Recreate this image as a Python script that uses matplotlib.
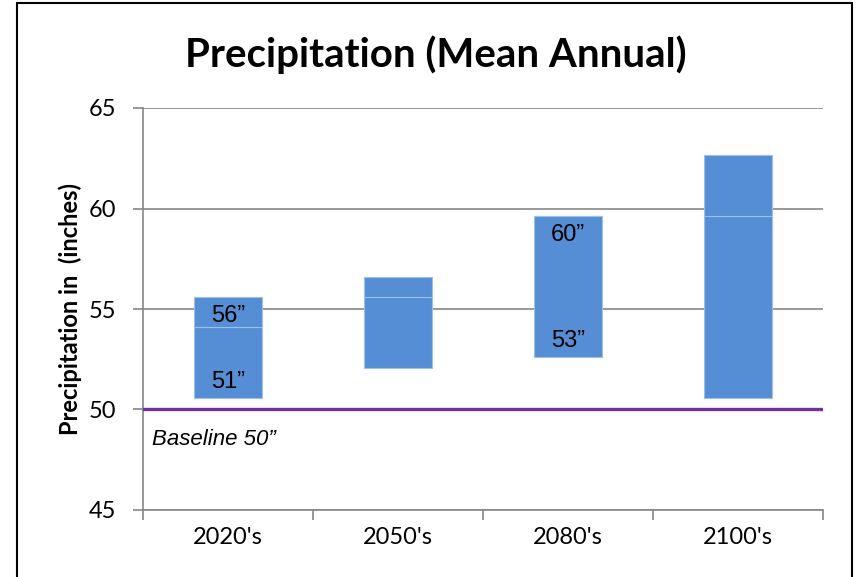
import numpy as np
import matplotlib.pyplot as plt
from matplotlib.patches import Rectangle

categories = ["2020's", "2050's", "2080's", "2100's"]
low = [50.55, 52.05, 52.6, 50.55]
mid = [54.1, 55.6, 59.65, 59.65]
high = [55.6, 56.6, 59.65, 62.65]
baseline = 50
top_labels = ["56\u201d", "", "60\u201d", ""]
bottom_labels = ["51\u201d", "", "53\u201d", ""]

BLUE = "#558ED5"
EDGE = "#9DBFE8"
GRAY = "#868686"

fig = plt.figure(figsize=(8.56, 5.77), dpi=100)
ax = fig.add_axes([143 / 856, 1 - 510 / 577, 680 / 856, 402 / 577])

x = np.arange(len(categories))
low = np.array(low)
mid = np.array(mid)
high = np.array(high)
ax.bar(x, mid - low, bottom=low, width=0.4, color=BLUE, edgecolor=EDGE, lw=0.8, zorder=3)
ax.bar(x, high - mid, bottom=mid, width=0.4, color=BLUE, edgecolor=EDGE, lw=0.8, zorder=3)

ax.axhline(baseline, color="#7030A0", lw=2.4, zorder=4)

for i in range(len(categories)):
    if top_labels[i]:
        ax.annotate(top_labels[i], (x[i], high[i]), xytext=(0, -6), textcoords="offset points",
                    ha="center", va="top", fontsize=17, family="Liberation Sans", zorder=5)
    if bottom_labels[i]:
        ax.annotate(bottom_labels[i], (x[i], low[i]), xytext=(0, 4), textcoords="offset points",
                    ha="center", va="bottom", fontsize=17, family="Liberation Sans", zorder=5)

ax.text(-0.45, baseline - 1.5, "Baseline 50\u201d", style="italic", fontsize=16,
        family="Liberation Sans", va="center", ha="left")

ax.set_xlim(-0.5, len(categories) - 0.5)
ax.set_ylim(45, 65)
ax.set_yticks([45, 50, 55, 60, 65])
ax.yaxis.grid(True, color=GRAY, lw=1.2, zorder=0)
ax.set_axisbelow(True)
ax.set_xticks(x)
ax.set_xticklabels(categories, family="Lato", fontsize=17)
ax.set_xticks(np.arange(len(categories) + 1) - 0.5, minor=True)
ax.tick_params(axis="x", which="major", length=0, pad=12)
ax.tick_params(axis="x", which="minor", length=7, width=1.2, color=GRAY, direction="out")
ax.tick_params(axis="y", length=7, width=1.2, color=GRAY, direction="out", pad=12, labelsize=17)
for lab in ax.get_yticklabels():
    lab.set_family("Lato")
for s in ["top", "right"]:
    ax.spines[s].set_visible(False)
for s in ["left", "bottom"]:
    ax.spines[s].set_color(GRAY)
    ax.spines[s].set_linewidth(1.2)

ax.set_ylabel("Precipitation in  (inches)", family="Lato", fontweight="bold", fontsize=17, labelpad=5)
fig.text(436 / 856, 1 - 55 / 577, "Precipitation (Mean Annual)", family="Lato",
         fontweight="bold", fontsize=29, ha="center", va="center")

fig.patches.append(Rectangle((17 / 856, -0.05), 835 / 856, 0.05 + 1 - 2.5 / 577,
                             transform=fig.transFigure, fill=False, ec="black", lw=1.5))

fig.savefig("out.png", dpi=100)
